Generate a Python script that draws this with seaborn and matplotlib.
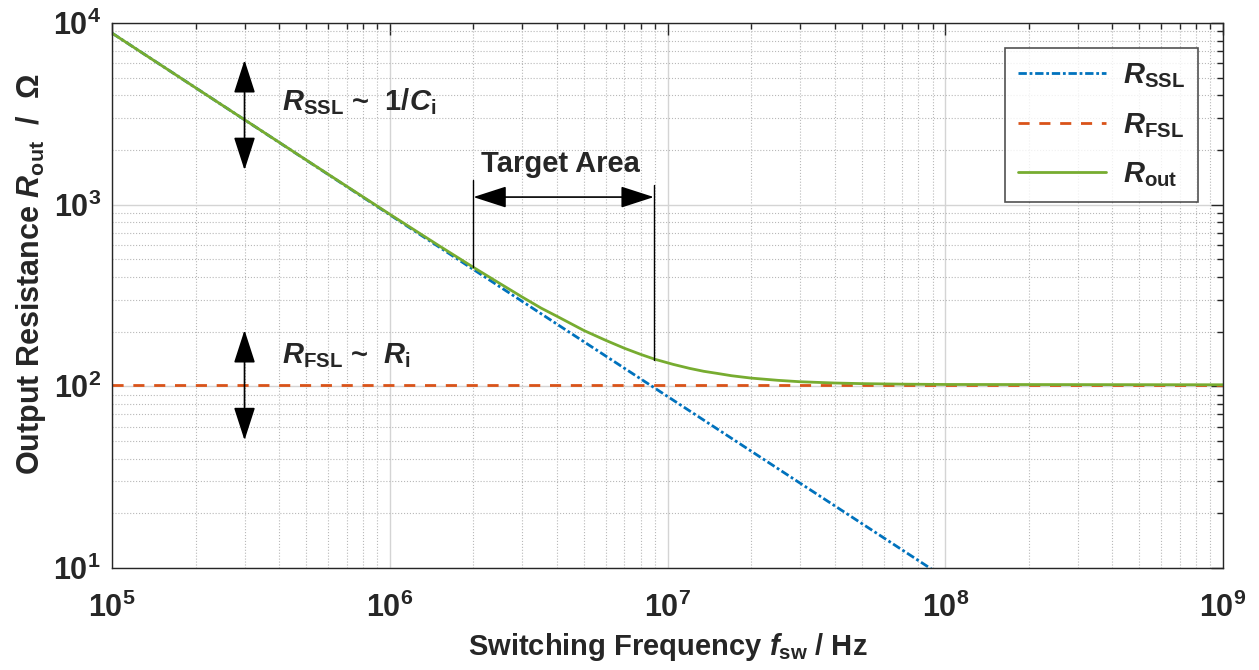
import numpy as np
import pandas as pd
import matplotlib
matplotlib.use("Agg")
import matplotlib.pyplot as plt
from matplotlib.ticker import LogLocator, FuncFormatter, NullFormatter
import seaborn as sns

# --- data ---
f_ssl = [1e5, 1e6, 1e7, 1e8]
r_ssl = [8800, 880, 88, 8.8]

f_fsl = [1e5, 1e9]
r_fsl = [102, 102]

f_out = [1e5, 2e5, 5e5, 1e6, 1.5e6, 2e6, 2.5e6, 3e6, 3.5e6, 4e6, 5e6, 6e6, 7e6, 8e6,
         9e6, 1.05e7, 1.2e7, 1.35e7, 1.5e7, 1.7e7, 2e7, 2.5e7, 3e7, 4e7, 5e7, 7e7, 1e8, 1e9]
r_out = [8800, 4400, 1763, 886, 596, 452, 367, 310, 270, 243, 203, 179, 162, 150,
         141, 132, 125.6, 121, 118, 114.4, 111, 107.9, 106, 104.3, 103.5, 102.8, 102.4, 102]

series_labels = [r'$R_{\mathrm{SSL}}$', r'$R_{\mathrm{FSL}}$', r'$R_{\mathrm{out}}$']
target_lo, target_hi = 2e6, 8.93e6

# --- style ---
sns.set_style("white")
plt.rcParams['font.family'] = ['Liberation Sans', 'DejaVu Sans']
plt.rcParams['font.weight'] = 'bold'
plt.rcParams['axes.labelweight'] = 'bold'
plt.rcParams['mathtext.fontset'] = 'custom'
plt.rcParams['mathtext.rm'] = 'Liberation Sans:bold'
plt.rcParams['mathtext.bf'] = 'Liberation Sans:bold'
plt.rcParams['mathtext.it'] = 'Liberation Sans:bold:italic'

blue, orange, green = '#0072BD', '#D95319', '#77AC30'
dark = '#262626'

fig = plt.figure(figsize=(12.59, 6.70), dpi=100)
ax = fig.add_axes([112 / 1259, 1 - 568 / 670, (1223 - 112) / 1259, (568 - 23) / 670])

sns.lineplot(x=f_ssl, y=r_ssl, ax=ax, color=blue, lw=2, linestyle=(0, (3, 1, 1, 1)),
             label=series_labels[0])
sns.lineplot(x=f_fsl, y=r_fsl, ax=ax, color=orange, lw=2, linestyle=(0, (4, 3.5)),
             label=series_labels[1])
sns.lineplot(x=f_out, y=r_out, ax=ax, color=green, lw=2, linestyle='-', label=series_labels[2])

ax.set_xscale('log')
ax.set_yscale('log')
ax.set_xlim(1e5, 1e9)
ax.set_ylim(10, 1e4)

for axis in (ax.xaxis, ax.yaxis):
    axis.set_major_locator(LogLocator(base=10, numticks=20))
    axis.set_minor_locator(LogLocator(base=10, subs=np.arange(2, 10), numticks=100))
    axis.set_major_formatter(FuncFormatter(lambda v, p: r'$\mathbf{10^{%d}}$' % round(np.log10(v))))
    axis.set_minor_formatter(NullFormatter())

ax.grid(which='major', color='#d4d4d4', lw=1, linestyle='-')
ax.grid(which='minor', color='#b8b8b8', lw=0.8, linestyle=':')
ax.set_axisbelow(True)

ax.tick_params(which='both', direction='in', top=True, right=True, colors=dark, width=1)
ax.tick_params(which='major', length=8.5, labelsize=22)
ax.tick_params(axis='x', which='major', pad=18)
ax.tick_params(axis='y', which='major', pad=8)
ax.tick_params(which='minor', length=4.3)
for s in ax.spines.values():
    s.set_color(dark)
    s.set_linewidth(1)

ax.set_xlabel(r'Switching Frequency $f_{\mathrm{sw}}$ / Hz', fontsize=21, color=dark,
              fontweight='bold', labelpad=5)
ax.set_ylabel(r'Output Resistance $R_{\mathrm{out}}$  /  $\Omega$', fontsize=22, color=dark,
              fontweight='bold')
ax.yaxis.set_label_coords(-0.058, 0.54)

# --- annotations ---
arrow = dict(arrowstyle='<|-|>,head_length=1.3,head_width=0.42', color='black', lw=1.2,
             shrinkA=0, shrinkB=0, mutation_scale=16)
ax.annotate('', xy=(3e5, 6250), xytext=(3e5, 1550), arrowprops=arrow)
ax.annotate('', xy=(3e5, 204), xytext=(3e5, 50.5), arrowprops=arrow)
ax.text(4.09e5, 3319, r'$R_{\mathrm{SSL}}$ ~  1/$C_{\mathrm{i}}$', fontsize=21, va='baseline', ha='left')
ax.text(4.09e5, 134, r'$R_{\mathrm{FSL}}$ ~  $R_{\mathrm{i}}$', fontsize=21, va='baseline', ha='left')

ax.plot([target_lo, target_lo], [1368, 452], color='black', lw=1)
ax.plot([target_hi, target_hi], [1283, 140], color='black', lw=1)
ax.annotate('', xy=(target_lo, 1101), xytext=(target_hi, 1101), arrowprops=arrow)
ax.text(4.1e6, 1514, 'Target Area', fontsize=21, ha='center', va='baseline')

leg = ax.legend(loc='upper right', fontsize=21, handlelength=3.0, borderaxespad=0.85,
                labelspacing=0.72, frameon=True, fancybox=False, edgecolor=dark,
                borderpad=0.45, handletextpad=0.6)
leg.get_frame().set_linewidth(1.2)

fig.savefig('out.png', dpi=100)
